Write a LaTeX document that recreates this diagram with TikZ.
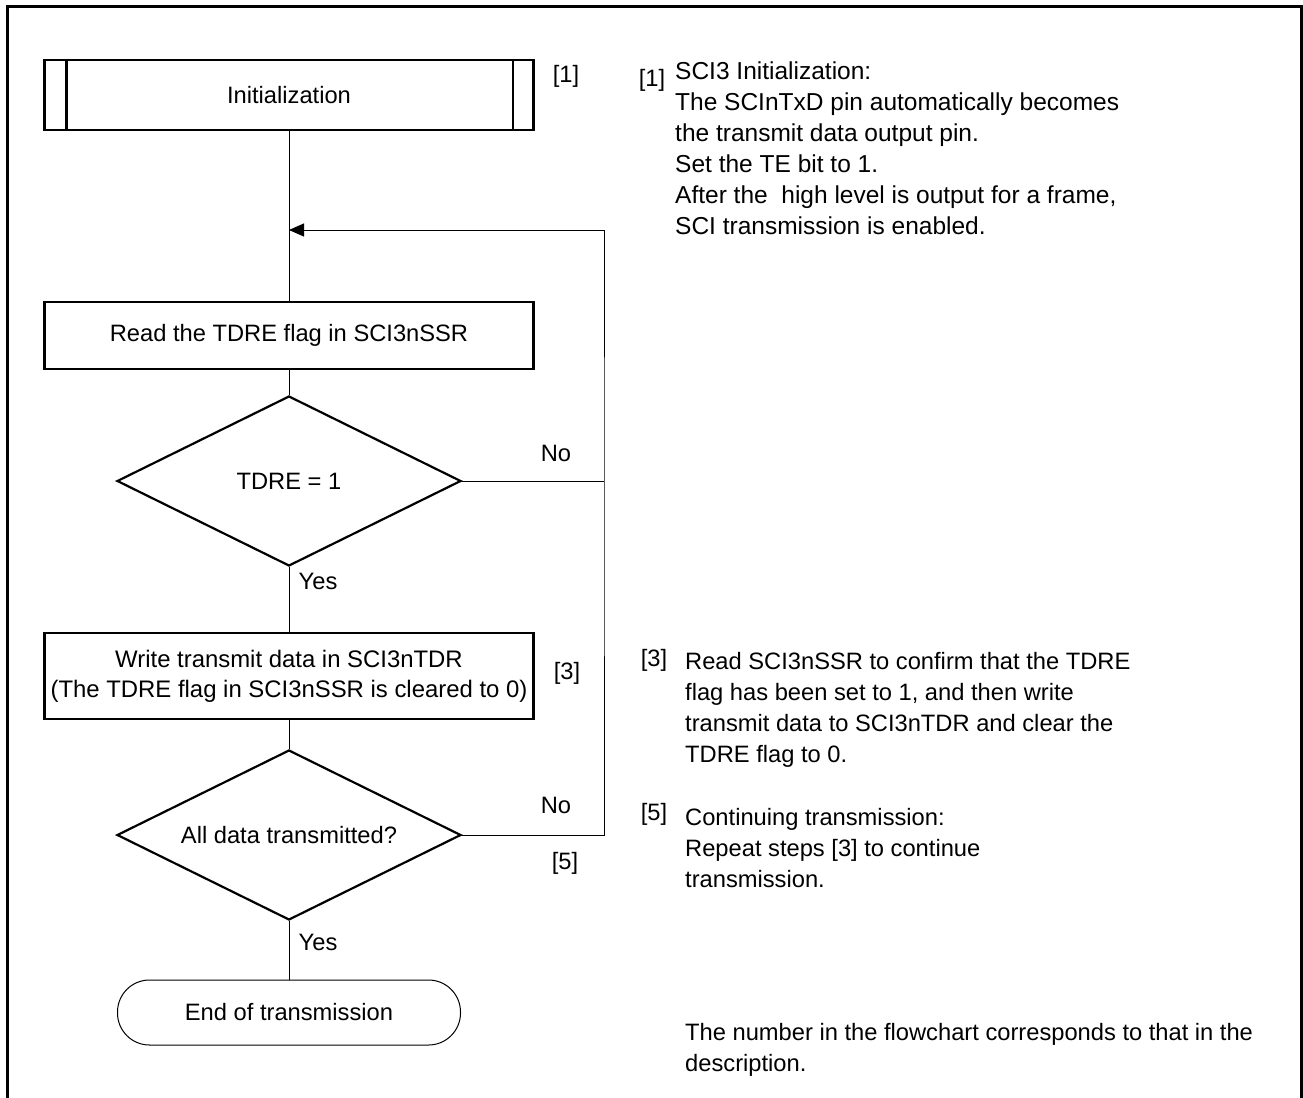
\documentclass[tikz,border=0pt]{standalone}
\usepackage{fontspec}
\setmainfont{Liberation Sans}
\usetikzlibrary{shapes.geometric,arrows.meta}
\begin{document}
\begin{tikzpicture}[x=1pt,y=-1pt,
  every node/.style={font=\fontsize{23.7}{31}\selectfont},
  proc/.style={draw,line width=2.2pt,minimum width=489pt,inner sep=0pt},
  dec/.style={draw,diamond,line width=2.2pt,minimum width=344pt,minimum height=170pt,inner sep=0pt},
  term/.style={draw,line width=1pt,rounded corners=32pt,minimum width=343pt,minimum height=65pt,inner sep=0pt},
  conn/.style={line width=1pt},
  lbl/.style={inner sep=0pt},
  desc/.style={inner sep=0pt,anchor=north west,align=left}]
\useasboundingbox (0,0) rectangle (1303,1097);
\draw[line width=3pt] (7,1100) -- (7,7) -- (1301,7) -- (1301,1100);

\node[proc,minimum height=70pt] (init) at (289,95) {Initialization};
\draw[line width=2.2pt] ([xshift=23pt]init.north west) -- ([xshift=23pt]init.south west);
\draw[line width=2.2pt] ([xshift=-22pt]init.north east) -- ([xshift=-22pt]init.south east);
\node[proc,minimum height=67pt] (read) at (289,335.5) {Read the TDRE flag in SCI3nSSR};
\node[dec] (d1) at (289,481) {\makebox[0pt]{TDRE = 1}};
\node[proc,minimum height=86pt,align=center,font=\fontsize{23.9}{30}\selectfont] (write) at (289,676) {Write transmit data in SCI3nTDR\\(The TDRE flag in SCI3nSSR is cleared to 0)};
\node[dec] (d2) at (289,835) {\makebox[0pt]{All data transmitted?}};
\node[term] (end) at (289,1012.5) {End of transmission};

\coordinate (merge) at (289,230);
\coordinate (r1) at (604,481);
\coordinate (r2) at (604,835);

\draw[conn] (init) -- (read);
\draw[conn] (read) -- (d1);
\draw[conn] (d1) -- (write);
\draw[conn] (write) -- (d2);
\draw[conn] (d2) -- (end);
\draw[conn] (d1.east) -- (r1);
\draw[conn,-{Triangle[length=15pt,width=13pt]}] (d2.east) -- (r2) -- (r1) |- (merge);

\node[lbl] (n1) at (556,453) {No};
\node[lbl] (n2) at (556,805) {No};
\node[lbl] (y1) at (318,581) {Yes};
\node[lbl] (y2) at (318,942) {Yes};
\node[lbl] (l1) at (566,76) {[1]};
\node[lbl] (l3) at (567,673) {[3]};
\node[lbl] (l5) at (565,863) {[5]};

\node[lbl] (k1) at (652,80) {[1]};
\node[desc,font=\fontsize{24.5}{31}\selectfont] (t1) at (675,62) {SCI3 Initialization:\\The SCInTxD pin automatically becomes\\the transmit data output pin.\\Set the TE bit to 1.\\After the\ \ high level is output for a frame,\\SCI transmission is enabled.};
\node[lbl] (k3) at (654,660) {[3]};
\node[desc] (t3) at (685,652) {Read SCI3nSSR to confirm that the TDRE\\flag has been set to 1, and then write\\transmit data to SCI3nTDR and clear the\\TDRE flag to 0.};
\node[lbl] (k5) at (654,814) {[5]};
\node[desc] (t5) at (685,808) {Continuing transmission:\\Repeat steps [3] to continue\\transmission.};
\node[desc] (t6) at (685,1023) {The number in the flowchart corresponds to that in the\\description.};
\end{tikzpicture}
\end{document}
